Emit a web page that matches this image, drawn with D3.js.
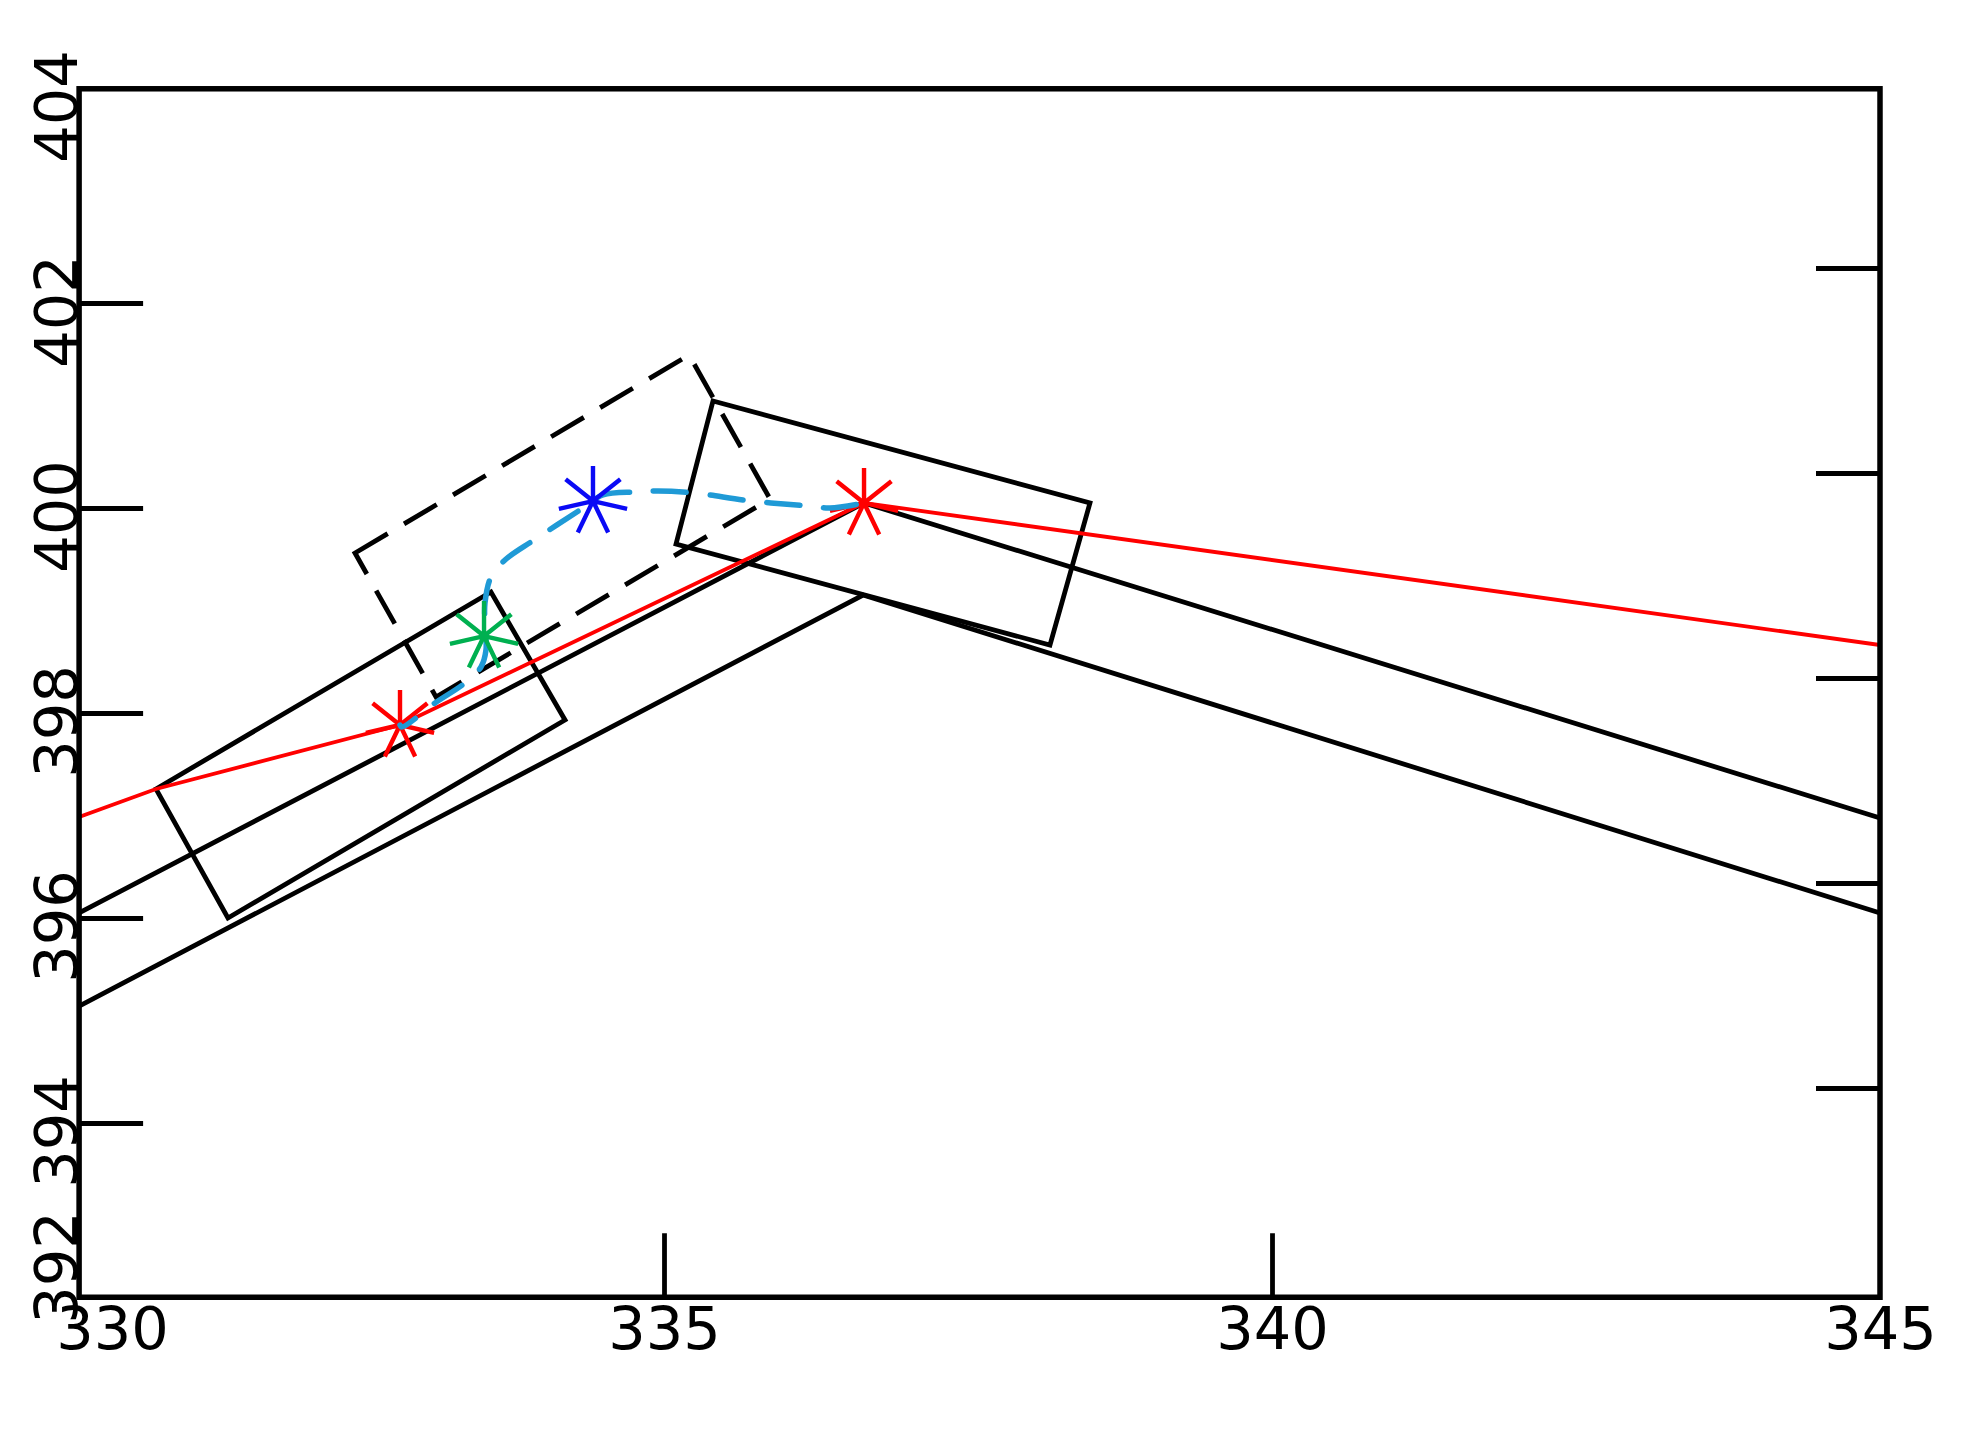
<!DOCTYPE html>
<html>
<head>
<meta charset="utf-8">
<script src="https://cdn.jsdelivr.net/npm/d3@7/dist/d3.min.js"></script>
<style>
  body { margin: 0; background: #fff; }
  svg text { font-family: "DejaVu Sans", sans-serif; }
</style>
</head>
<body>
<script>
// tick values and visible limits of the box
const xTicks = [330, 335, 340, 345]
const yTicks = [392, 394, 396, 398, 400, 402, 404]
const xLim = [330.19, 345]
const yLim = [392.3, 404.09]

// two parallel black V lines
const upperX = [330.19, 336.645, 345]
const upperY = [396.05, 400.049, 396.976]
const lowerX = [330.19, 336.637, 345]
const lowerY = [395.141, 399.151, 396.049]

// three boxes (solid, solid, dashed)
const boxAX = [330.822, 333.577, 334.186, 331.414]
const boxAY = [397.259, 399.18, 397.932, 396.0]
const boxBX = [335.403, 338.503, 338.174, 335.099]
const boxBY = [401.044, 400.049, 398.663, 399.649]
const boxCX = [332.459, 335.206, 335.872, 333.125]
const boxCY = [399.561, 401.493, 400.088, 398.156]

// red track
const redX = [330.19, 330.822, 332.829, 336.645, 345]
const redY = [396.985, 397.259, 397.883, 400.049, 398.663]

// blue dashed curve
const curveX = [332.829, 332.845, 333.117, 333.363, 333.495, 333.536, 333.528, 333.528, 333.577, 333.692, 333.931, 334.334, 334.498, 334.77, 334.951, 335.247, 335.715, 336.184, 336.365, 336.645]
const curveY = [397.883, 397.863, 398.098, 398.293, 398.449, 398.615, 398.859, 399.073, 399.327, 399.493, 399.688, 400.0, 400.127, 400.156, 400.166, 400.146, 400.068, 400.02, 400.0, 400.049]

// star markers
const starX = [332.829, 336.645, 333.52, 334.416]
const starY = [397.883, 400.049, 398.751, 400.068]
const starColor = ['#ff0000', '#ff0000', '#00b050', '#0a0af5']

const width = 1967, height = 1437

const x = d3.scaleLinear().domain([330, 345]).range([56, 1880])
const y = d3.scaleLinear().domain([392, 404]).range([1328, 98])

const svg = d3.select('body').append('svg')
  .attr('width', width)
  .attr('height', height)
svg.append('rect').attr('width', width).attr('height', height).attr('fill', '#fff')

svg.append('clipPath').attr('id', 'box')
  .append('rect')
  .attr('x', x(xLim[0])).attr('y', y(yLim[1]))
  .attr('width', x(xLim[1]) - x(xLim[0]))
  .attr('height', y(yLim[0]) - y(yLim[1]))

const plot = svg.append('g').attr('clip-path', 'url(#box)')

const line = d3.line().x(d => x(d[0])).y(d => y(d[1]))
const zip = (a, b) => a.map((v, i) => [v, b[i]])

// black V lines
plot.selectAll('.vline')
  .data([zip(upperX, upperY), zip(lowerX, lowerY)])
  .enter().append('path')
  .attr('class', 'vline')
  .attr('d', line)
  .attr('fill', 'none')
  .attr('stroke', '#000')
  .attr('stroke-width', 4.8)

// boxes
const boxes = [
  { pts: zip(boxAX, boxAY), dash: null },
  { pts: zip(boxBX, boxBY), dash: null },
  { pts: zip(boxCX, boxCY), dash: '38,19' }
]
plot.selectAll('.box')
  .data(boxes)
  .enter().append('path')
  .attr('class', 'box')
  .attr('d', d => line(d.pts) + 'Z')
  .attr('fill', 'none')
  .attr('stroke', '#000')
  .attr('stroke-width', 4.8)
  .attr('stroke-dasharray', d => d.dash)

// red track
plot.append('path')
  .attr('d', line(zip(redX, redY)))
  .attr('fill', 'none')
  .attr('stroke', '#ff0000')
  .attr('stroke-width', 3.8)

// 7 spoke asterisk
function star(cx, cy, r) {
  let p = ''
  for (let k = 0; k < 7; k++) {
    const a = 2 * Math.PI * k / 7
    p += 'M' + cx + ',' + cy + 'L' + (cx + r * Math.sin(a)) + ',' + (cy - r * Math.cos(a))
  }
  return p
}

const stars = starX.map((v, i) => ({ x: v, y: starY[i], c: starColor[i] }))

plot.selectAll('.star-red')
  .data(stars.slice(0, 2))
  .enter().append('path')
  .attr('class', 'star-red')
  .attr('d', d => star(x(d.x), y(d.y), 35))
  .attr('stroke', d => d.c)
  .attr('stroke-width', 4.4)

// blue dashed curve
plot.append('path')
  .attr('d', d3.line().curve(d3.curveCatmullRom).x(d => x(d[0])).y(d => y(d[1]))(zip(curveX, curveY)))
  .attr('fill', 'none')
  .attr('stroke', '#1f9ad6')
  .attr('stroke-width', 5.5)
  .attr('stroke-linecap', 'round')
  .attr('stroke-dasharray', '33,24')
  .attr('stroke-dashoffset', 14)

plot.selectAll('.star-other')
  .data(stars.slice(2))
  .enter().append('path')
  .attr('class', 'star-other')
  .attr('d', d => star(x(d.x), y(d.y), 35))
  .attr('stroke', d => d.c)
  .attr('stroke-width', 4.4)

// frame
svg.append('rect')
  .attr('x', x(xLim[0])).attr('y', y(yLim[1]))
  .attr('width', x(xLim[1]) - x(xLim[0]))
  .attr('height', y(yLim[0]) - y(yLim[1]))
  .attr('fill', 'none')
  .attr('stroke', '#000')
  .attr('stroke-width', 5.5)

// bottom axis
const gx = svg.append('g')
  .attr('transform', 'translate(0,' + y(yLim[0]) + ')')
  .call(d3.axisBottom(x).tickValues(xTicks).tickSizeInner(-64).tickSizeOuter(0).tickPadding(10).tickFormat(d3.format('d')))
gx.select('.domain').remove()
gx.selectAll('line').attr('stroke', '#000').attr('stroke-width', 4.8)
  .attr('display', d => (d < xLim[0] || d >= xLim[1]) ? 'none' : null)
gx.selectAll('text').attr('font-size', 59).attr('fill', '#000')
  .attr('font-family', 'DejaVu Sans')
  .attr('dx', d => d < xLim[0] ? 56 : 0)

// left axis, labels turned upright
const gy = svg.append('g')
  .attr('transform', 'translate(' + x(xLim[0]) + ',0)')
  .call(d3.axisLeft(y).tickValues(yTicks).tickSizeInner(-64).tickSizeOuter(0).tickFormat(d3.format('d')))
gy.select('.domain').remove()
gy.selectAll('line').attr('stroke', '#000').attr('stroke-width', 4.8)
  .attr('display', d => (d < yLim[0] || d > yLim[1] - 0.2) ? 'none' : null)
gy.selectAll('text')
  .attr('x', 0).attr('dy', null)
  .attr('text-anchor', 'middle')
  .attr('font-size', 59).attr('fill', '#000')
  .attr('font-family', 'DejaVu Sans')
  .attr('transform', d => 'translate(-2,' + (d < yLim[0] ? -61 : 8) + ') rotate(-90)')

// right side ticks (drawn a bit higher in the original)
const gr = svg.append('g')
  .attr('transform', 'translate(' + x(xLim[1]) + ',-35)')
  .call(d3.axisRight(y).tickValues(yTicks.slice(1, 6)).tickSizeInner(-64).tickSizeOuter(0).tickFormat(''))
gr.select('.domain').remove()
gr.selectAll('line').attr('stroke', '#000').attr('stroke-width', 4.8)
</script>
</body>
</html>
